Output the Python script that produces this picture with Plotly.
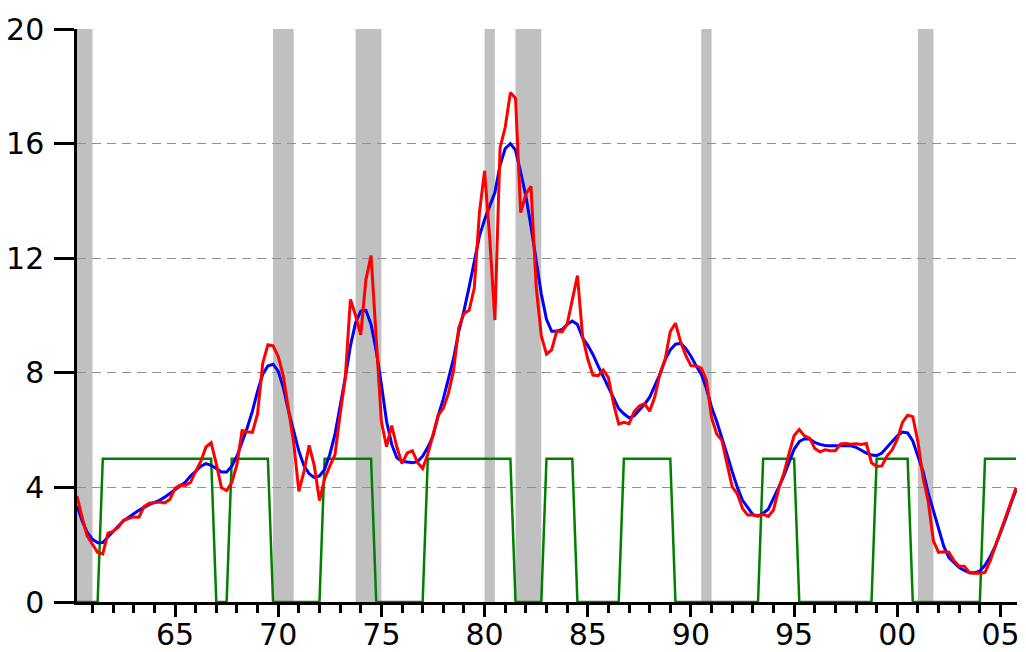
import plotly.graph_objects as go

# quarterly observations, 1960Q2 .. 2005Q4
first_year, first_q = 1960, 2
last_year = 2005

# effective federal funds rate, quarterly average (red)
fed_funds = [
    3.70, 2.94, 2.30,         # 1960
    2.00, 1.73, 1.68, 2.40,   # 1961
    2.46, 2.61, 2.85, 2.92,   # 1962
    2.97, 2.96, 3.33, 3.45,   # 1963
    3.46, 3.49, 3.46, 3.58,   # 1964
    3.97, 4.08, 4.07, 4.17,   # 1965
    4.56, 4.91, 5.41, 5.56,   # 1966
    4.82, 3.99, 3.89, 4.17,   # 1967
    4.79, 5.98, 5.94, 5.92,   # 1968
    6.57, 8.33, 8.98, 8.94,   # 1969
    8.57, 7.88, 6.71, 5.57,   # 1970
    3.86, 4.56, 5.47, 4.75,   # 1971
    3.54, 4.30, 4.74, 5.14,   # 1972
    6.54, 7.82, 10.56, 10.00, # 1973
    9.32, 11.25, 12.09, 9.35, # 1974
    6.30, 5.42, 6.16, 5.41,   # 1975
    4.83, 5.20, 5.28, 4.87,   # 1976
    4.66, 5.16, 5.82, 6.51,   # 1977
    6.76, 7.28, 8.10, 9.58,   # 1978
    10.07, 10.18, 10.95, 13.58,  # 1979
    15.05, 12.69, 9.84, 15.85,   # 1980
    16.57, 17.78, 17.58, 13.59,  # 1981
    14.23, 14.51, 11.01, 9.29,   # 1982
    8.65, 8.80, 9.46, 9.43,   # 1983
    9.69, 10.56, 11.39, 9.27, # 1984
    8.48, 7.92, 7.90, 8.10,   # 1985
    7.83, 6.92, 6.21, 6.27,   # 1986
    6.22, 6.65, 6.84, 6.92,   # 1987
    6.66, 7.16, 7.98, 8.47,   # 1988
    9.44, 9.73, 9.08, 8.61,   # 1989
    8.25, 8.24, 8.16, 7.74,   # 1990
    6.43, 5.86, 5.64, 4.82,   # 1991
    4.02, 3.77, 3.26, 3.04,   # 1992
    3.04, 3.00, 3.06, 2.99,   # 1993
    3.21, 3.94, 4.49, 5.17,   # 1994
    5.81, 6.02, 5.80, 5.72,   # 1995
    5.36, 5.24, 5.31, 5.28,   # 1996
    5.28, 5.52, 5.53, 5.51,   # 1997
    5.52, 5.50, 5.53, 4.86,   # 1998
    4.73, 4.75, 5.09, 5.31,   # 1999
    5.68, 6.27, 6.52, 6.47,   # 2000
    5.59, 4.33, 3.50, 2.13,   # 2001
    1.73, 1.75, 1.74, 1.44,   # 2002
    1.25, 1.25, 1.02, 1.00,   # 2003
    1.00, 1.03, 1.43, 1.95,   # 2004
    2.47, 2.94, 3.46, 3.98,   # 2005
]

# smoothed rate (blue)
smoothed = [
    3.35, 2.83, 2.42,         # 1960
    2.19, 2.07, 2.08, 2.27,   # 1961
    2.48, 2.65, 2.83, 2.97,   # 1962
    3.08, 3.20, 3.31, 3.40,   # 1963
    3.48, 3.55, 3.66, 3.78,   # 1964
    3.92, 4.05, 4.18, 4.40,   # 1965
    4.56, 4.74, 4.83, 4.77,   # 1966
    4.66, 4.54, 4.54, 4.74,   # 1967
    5.09, 5.56, 6.08, 6.66,   # 1968
    7.36, 7.95, 8.24, 8.30,   # 1969
    8.06, 7.48, 6.66, 5.97,   # 1970
    5.27, 4.75, 4.48, 4.34,   # 1971
    4.40, 4.63, 5.15, 5.85,   # 1972
    6.78, 7.83, 8.94, 9.75,   # 1973
    10.15, 10.18, 9.69, 8.76, # 1974
    7.59, 6.31, 5.50, 5.03,   # 1975
    4.91, 4.88, 4.86, 4.90,   # 1976
    5.09, 5.40, 5.79, 6.50,   # 1977
    7.09, 7.80, 8.51, 9.45,   # 1978
    10.16, 10.99, 11.93, 12.76,  # 1979
    13.35, 13.82, 14.29, 15.24,  # 1980
    15.83, 16.00, 15.77, 15.00,  # 1981
    14.17, 13.11, 11.93, 10.75,  # 1982
    9.87, 9.45, 9.45, 9.51,   # 1983
    9.69, 9.81, 9.69, 9.22,   # 1984
    8.96, 8.64, 8.24, 7.87,   # 1985
    7.53, 7.16, 6.75, 6.57,   # 1986
    6.43, 6.50, 6.70, 6.90,   # 1987
    7.15, 7.55, 7.95, 8.45,   # 1988
    8.80, 9.00, 9.03, 8.85,   # 1989
    8.58, 8.25, 7.95, 7.45,   # 1990
    6.80, 6.30, 5.75, 5.15,   # 1991
    4.55, 4.00, 3.55, 3.30,   # 1992
    3.05, 3.00, 3.10, 3.24,   # 1993
    3.60, 4.00, 4.40, 4.85,   # 1994
    5.33, 5.60, 5.70, 5.69,   # 1995
    5.57, 5.50, 5.46, 5.45,   # 1996
    5.45, 5.47, 5.47, 5.45,   # 1997
    5.40, 5.30, 5.20, 5.13,   # 1998
    5.11, 5.20, 5.40, 5.62,   # 1999
    5.80, 5.93, 5.90, 5.62,   # 2000
    5.10, 4.55, 3.80, 3.18,   # 2001
    2.50, 1.95, 1.55, 1.36,   # 2002
    1.20, 1.10, 1.02, 1.02,   # 2003
    1.08, 1.28, 1.58, 1.95,   # 2004
    2.40, 2.90, 3.42, 3.90,   # 2005
]

# regime indicator (green), 0 or 5
regime = [
    0, 0, 0,      # 1960
    0, 0, 5, 5,   # 1961
    5, 5, 5, 5,   # 1962
    5, 5, 5, 5,   # 1963
    5, 5, 5, 5,   # 1964
    5, 5, 5, 5,   # 1965
    5, 5, 5, 5,   # 1966
    0, 0, 0, 5,   # 1967
    5, 5, 5, 5,   # 1968
    5, 5, 5, 0,   # 1969
    0, 0, 0, 0,   # 1970
    0, 0, 0, 0,   # 1971
    0, 5, 5, 5,   # 1972
    5, 5, 5, 5,   # 1973
    5, 5, 5, 0,   # 1974
    0, 0, 0, 0,   # 1975
    0, 0, 0, 0,   # 1976
    0, 5, 5, 5,   # 1977
    5, 5, 5, 5,   # 1978
    5, 5, 5, 5,   # 1979
    5, 5, 5, 5,   # 1980
    5, 5, 0, 0,   # 1981
    0, 0, 0, 0,   # 1982
    5, 5, 5, 5,   # 1983
    5, 5, 0, 0,   # 1984
    0, 0, 0, 0,   # 1985
    0, 0, 0, 5,   # 1986
    5, 5, 5, 5,   # 1987
    5, 5, 5, 5,   # 1988
    5, 0, 0, 0,   # 1989
    0, 0, 0, 0,   # 1990
    0, 0, 0, 0,   # 1991
    0, 0, 0, 0,   # 1992
    0, 0, 5, 5,   # 1993
    5, 5, 5, 5,   # 1994
    5, 0, 0, 0,   # 1995
    0, 0, 0, 0,   # 1996
    0, 0, 0, 0,   # 1997
    0, 0, 0, 0,   # 1998
    5, 5, 5, 5,   # 1999
    5, 5, 5, 0,   # 2000
    0, 0, 0, 0,   # 2001
    0, 0, 0, 0,   # 2002
    0, 0, 0, 0,   # 2003
    0, 5, 5, 5,   # 2004
    5, 5, 5, 5,   # 2005
]

# NBER recessions (shaded)
rec_start = ["1960Q2", "1969Q4", "1973Q4", "1980Q1", "1981Q3", "1990Q3", "2001Q1"]
rec_end = ["1961Q1", "1970Q4", "1975Q1", "1980Q3", "1982Q4", "1991Q1", "2001Q4"]

major_years = list(range(1965, 2006, 5))
minor_years = [y for y in range(1961, 2006) if y % 5 != 0]


def qpos(label):
    y, q = label.split("Q")
    return int(y) + (int(q) - 1) / 4


quarters = [f"{y}Q{q}" for y in range(first_year, last_year + 1) for q in range(1, 5)]
quarters = quarters[first_q - 1:]
t = [qpos(s) for s in quarters]

FONT = "DejaVu Sans"

fig = go.Figure()
fig.add_trace(go.Scatter(x=t, y=regime, mode="lines",
                         line=dict(color="#008000", width=2.5), showlegend=False))
fig.add_trace(go.Scatter(x=t, y=smoothed, mode="lines",
                         line=dict(color="#0000ff", width=3), showlegend=False))
fig.add_trace(go.Scatter(x=t, y=fed_funds, mode="lines",
                         line=dict(color="#ff0000", width=3), showlegend=False))

for a, b in zip(rec_start, rec_end):
    fig.add_shape(type="rect", xref="x", yref="paper", x0=qpos(a), x1=qpos(b),
                  y0=0, y1=1, fillcolor="#c0c0c0", line_width=0, layer="below")

fig.update_layout(
    width=1026,
    height=652,
    margin=dict(l=77, r=9, t=29, b=50),
    paper_bgcolor="white",
    plot_bgcolor="white",
    font=dict(family=FONT, size=30, color="black"),
    xaxis=dict(
        range=[1960.25, 2005.8],
        tickmode="array",
        tickvals=major_years,
        ticktext=[f"{y % 100:02d}" for y in major_years],
        ticks="outside",
        ticklen=12,
        tickwidth=2.5,
        tickcolor="black",
        ticklabelstandoff=-8,
        showline=True,
        linecolor="black",
        linewidth=2.5,
        showgrid=False,
        zeroline=False,
        automargin=False,
        minor=dict(tickmode="array", tickvals=minor_years, ticks="outside",
                   ticklen=8, tickwidth=2.5, tickcolor="black", showgrid=False),
    ),
    yaxis=dict(
        range=[0, 20],
        tickmode="array",
        tickvals=[0, 4, 8, 12, 16, 20],
        ticks="outside",
        ticklen=20,
        tickwidth=2.5,
        tickcolor="black",
        ticklabelstandoff=4,
        showline=True,
        linecolor="black",
        linewidth=2.5,
        showgrid=True,
        gridcolor="#909090",
        gridwidth=1,
        griddash="9px,6px",
        zeroline=False,
        automargin=False,
    ),
)

fig.write_html("out.html", config={"displayModeBar": False},
               post_script="document.body.style.margin = '0';")
